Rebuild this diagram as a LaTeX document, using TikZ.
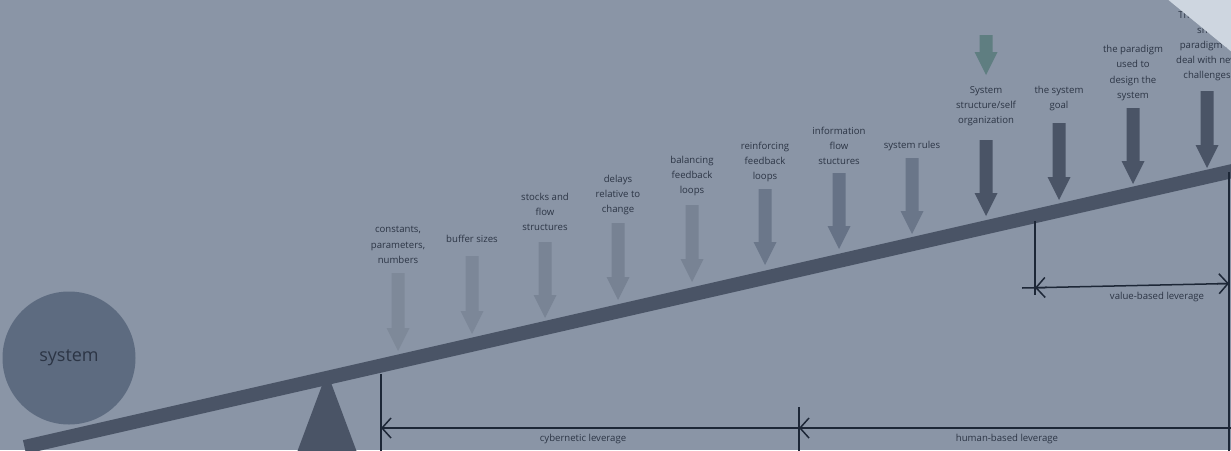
\documentclass[tikz,border=0pt]{standalone}
\usepackage{fontspec}
\setmainfont{Open Sans}
\usetikzlibrary{arrows.meta,calc}
\definecolor{bg}{HTML}{8A95A6}
\definecolor{corner}{HTML}{CED6E0}
\definecolor{beamc}{HTML}{4A5466}
\definecolor{circ}{HTML}{5D6B80}
\definecolor{txt}{HTML}{2C3545}
\definecolor{dimc}{HTML}{1D2737}
\definecolor{teal}{HTML}{5F7E81}
\definecolor{aA}{HTML}{7E8999}
\definecolor{aB}{HTML}{7C8798}
\definecolor{aC}{HTML}{798495}
\definecolor{aD}{HTML}{778293}
\definecolor{aE}{HTML}{788394}
\definecolor{aF}{HTML}{6B778A}
\definecolor{aG}{HTML}{667286}
\definecolor{aH}{HTML}{6A7689}
\definecolor{aI}{HTML}{4A5466}
% block arrow: x, top of shaft, tip, colour
\newcommand\levarrow[4]{%
  \fill[#4] (#1-6.5,#2) -- (#1+6.5,#2) -- (#1+6.5,#3-23) -- (#1+11.5,#3-23)
    -- (#1,#3) -- (#1-11.5,#3-23) -- (#1-6.5,#3-23) -- cycle;}
\begin{document}
\begin{tikzpicture}[x=1pt,y=-1pt,
  lbl/.style={font=\fontsize{9.6}{15.2}\selectfont, text=txt, align=center, inner sep=0pt},
  dimline/.style={draw=dimc, line width=1.5pt},
  barb/.style={dimline, -{Straight Barb[length=9pt,width=20pt]}}]
\useasboundingbox (0,0) rectangle (1231,450);
\fill[bg] (0,0) rectangle (1231,450);
\begin{scope}
\clip (0,0) rectangle (1231,450);

% the system resting on the lever
\node[circle, fill=circ, minimum size=133pt, inner sep=0pt, text=txt,
      font=\fontsize{18}{20}\selectfont] (system) at (69,358) {system};

% fulcrum
\fill[beamc] (327,372) -- (358,455) -- (296,455) -- cycle;

% leverage points
\levarrow{398}{273}{351}{aA}
\levarrow{472}{256}{334}{aB}
\levarrow{545}{242}{318}{aC}
\levarrow{618}{223}{300}{aD}
\levarrow{692}{205}{282}{aE}
\levarrow{765}{189}{265}{aF}
\levarrow{839}{173}{249}{aG}
\levarrow{912}{158}{234}{aH}
\levarrow{986}{140}{216}{aI}
\levarrow{1059}{123}{200}{aI}
\levarrow{1133}{108}{184}{aI}
\levarrow{1207}{91}{168}{aI}
\levarrow{986}{35}{75}{teal}

\node[lbl] (p1) at (398,245) {constants,\\parameters,\\numbers};
\node[lbl] (p2) at (472,239) {buffer sizes};
\node[lbl] (p3) at (545,212) {stocks and\\flow\\structures};
\node[lbl] (p4) at (618,195) {delays\\relative to\\change};
\node[lbl] (p5) at (692,176) {balancing\\feedback\\loops};
\node[lbl] (p6) at (765,162) {reinforcing\\feedback\\loops};
\node[lbl] (p7) at (839,146) {information\\flow\\stuctures};
\node[lbl] (p8) at (912,146) {system rules};
\node[lbl] (p9) at (986,106) {System\\structure/self\\organization};
\node[lbl] (p10) at (1059,98.5) {the system\\goal};
\node[lbl] (p11) at (1133,73) {the paradigm\\used to\\design the\\system};
\node[lbl] (p12) at (1207,46) {The ability to\\shift\\paradigm to\\deal with new\\challenges};

% lever beam
\draw[beamc, line width=14pt] (24.5,447) -- (1250,167);

% dimension lines
\coordinate (c0) at (381,374);
\coordinate (c0b) at (381,455);
\coordinate (c1) at (799,407);
\coordinate (c1b) at (799,455);
\coordinate (c2) at (1229,172);
\coordinate (c2b) at (1229,455);
\coordinate (h0) at (381,428);
\coordinate (h1) at (799,428);
\coordinate (h2) at (1231,428);
\draw[dimline] (c0) -- (c0b);
\draw[dimline] (c1) -- (c1b);
\draw[dimline] (c2) -- (c2b);
\draw[dimline] (h0) -- (h2);
\draw[barb] ($(h0)+(12,0)$) -- (h0);
\draw[barb] ($(h1)+(12,0)$) -- (h1);
\node[lbl] (cyb) at (583,439) {cybernetic leverage};
\node[lbl] (hum) at (1007,439) {human-based leverage};

\coordinate (v0) at (1035,221);
\coordinate (v0b) at (1035,295);
\coordinate (w0) at (1022,288);
\coordinate (w1) at (1035,287.7);
\coordinate (w2) at (1229,283.5);
\draw[dimline] (v0) -- (v0b);
\draw[dimline] (w0) -- (w2);
\draw[barb] ($(w1)+(12,-0.25)$) -- (w1);
\draw[barb] ($(w2)+(-12,0.25)$) -- (w2);
\node[lbl] (val) at (1157,297) {value-based leverage};

% folded page corner
\fill[corner] (1166,-2) -- (1233,-2) -- (1233,53) -- cycle;
\end{scope}
\end{tikzpicture}
\end{document}
